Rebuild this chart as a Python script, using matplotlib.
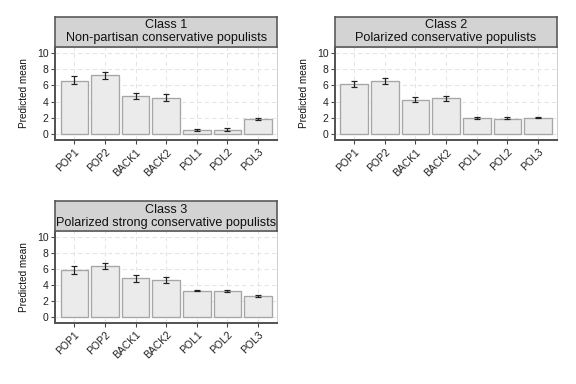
import numpy as np
import matplotlib
matplotlib.use("Agg")
import matplotlib.pyplot as plt

plt.rcParams['font.family'] = ['Liberation Sans', 'DejaVu Sans']

items = ["POP1", "POP2", "BACK1", "BACK2", "POL1", "POL2", "POL3"]
titles = ["Class 1\nNon-partisan conservative populists",
          "Class 2\nPolarized conservative populists",
          "Class 3\nPolarized strong conservative populists"]

mean1 = [6.6, 7.25, 4.75, 4.5, 0.5, 0.55, 1.8]
low1 = [6.15, 6.8, 4.35, 4.1, 0.38, 0.42, 1.68]
high1 = [7.1, 7.7, 5.1, 4.9, 0.6, 0.72, 1.95]

mean2 = [6.15, 6.5, 4.25, 4.4, 1.97, 1.9, 2.02]
low2 = [5.8, 6.2, 3.9, 4.1, 1.87, 1.8, 1.97]
high2 = [6.5, 6.9, 4.6, 4.75, 2.07, 2.1, 2.07]

mean3 = [5.85, 6.35, 4.85, 4.6, 3.28, 3.22, 2.6]
low3 = [5.4, 5.95, 4.4, 4.25, 3.2, 3.1, 2.48]
high3 = [6.35, 6.75, 5.25, 5.0, 3.35, 3.35, 2.72]

panels = [(mean1, low1, high1), (mean2, low2, high2), (mean3, low3, high3)]

# axes boxes in figure fractions
boxes = [(0.096, 0.635, 0.385, 0.243),
         (0.582, 0.635, 0.385, 0.243),
         (0.096, 0.159, 0.385, 0.239)]
strip_h = 0.078

fig = plt.figure(figsize=(6, 4), dpi=96)
x = np.arange(len(items))

for (m, lo, hi), box, title in zip(panels, boxes, titles):
    ax = fig.add_axes(box)
    ax.set_axisbelow(True)
    ax.grid(True, color='#E4E4E4', linestyle=(0, (4, 3)), linewidth=0.8)
    m = np.array(m)
    err = [m - np.array(lo), np.array(hi) - m]
    ax.bar(x, m, width=0.9, color='#EBEBEB', edgecolor='#A6A6A6', linewidth=1.0)
    ax.errorbar(x, m, yerr=err, fmt='none', ecolor='#222222', elinewidth=0.9,
                capsize=2.5, capthick=0.9)
    ax.set_xlim(-0.62, 6.62)
    ax.set_ylim(-0.75, 10.75)
    ax.set_yticks([0, 2, 4, 6, 8, 10])
    ax.set_xticks(x)
    ax.set_xticklabels(items, rotation=45, ha='right', rotation_mode='anchor',
                       fontsize=7.8, color='#222222')
    ax.tick_params(axis='y', labelsize=7.8, labelcolor='#222222', length=3,
                   color='#444444', pad=2)
    ax.tick_params(axis='x', length=3, color='#444444', pad=2)
    ax.set_ylabel("Predicted mean", fontsize=7.5, color='#111111', labelpad=6)
    for s in ['left', 'bottom']:
        ax.spines[s].set_color('#555555')
        ax.spines[s].set_linewidth(1.5)
    for s in ['top', 'right']:
        ax.spines[s].set_color('#D0D0D0')
        ax.spines[s].set_linewidth(0.8)

    sx = fig.add_axes((box[0], box[1] + box[3], box[2], strip_h))
    sx.set_facecolor('#D3D3D3')
    sx.set_xticks([])
    sx.set_yticks([])
    for s in sx.spines.values():
        s.set_color('#555555')
        s.set_linewidth(1.2)
    sx.text(0.5, 0.5, title, ha='center', va='center', fontsize=9.5,
            linespacing=1.1, color='#111111', transform=sx.transAxes)

fig.savefig("out.png", dpi=96)
